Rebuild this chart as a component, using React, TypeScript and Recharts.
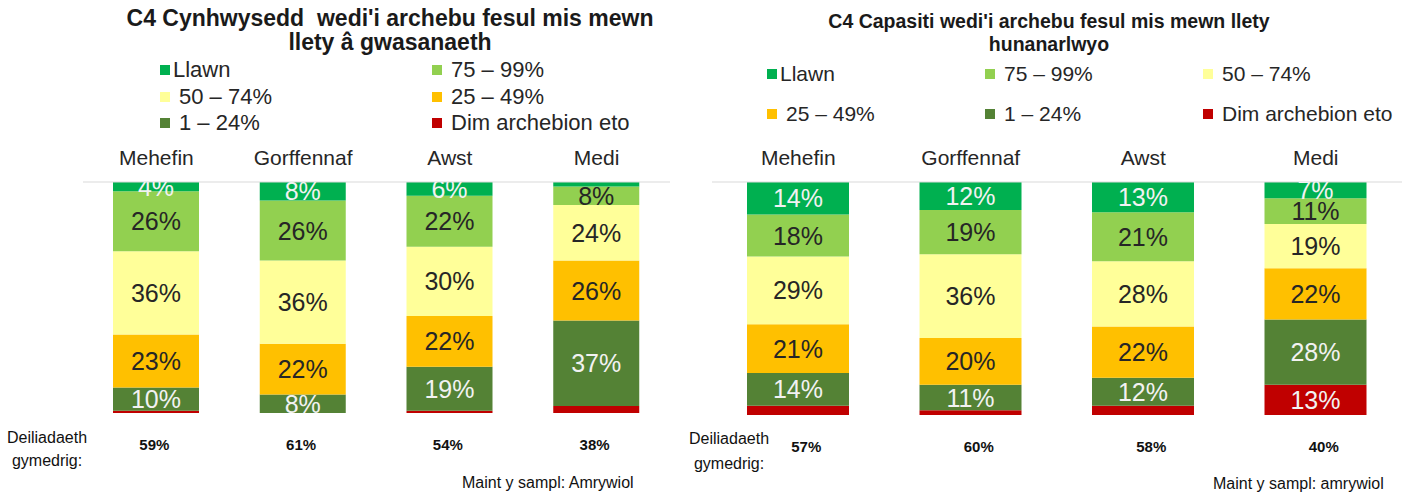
import React from "react";
import { BarChart, Bar, XAxis, YAxis, LabelList, Legend } from "recharts";

const months = ["Mehefin", "Gorffennaf", "Awst", "Medi"];
const seriesNames = ["Llawn", "75 – 99%", "50 – 74%", "25 – 49%", "1 – 24%", "Dim archebion eto"];
const seriesKeys = ["llawn", "p75", "p50", "p25", "p1", "dim"];
const seriesColors = ["#00B050", "#92D050", "#FFFF99", "#FFC000", "#548235", "#C00000"];
const labelColors = ["#F2F2F2", "#262626", "#262626", "#262626", "#F2F2F2", "#F2F2F2"];
const labelMin = [3, 3, 3, 3, 3, 5];

// llety â gwasanaeth (serviced)
const servLlawn = [4, 8, 6, 2];
const serv75 = [26, 26, 22, 8];
const serv50 = [36, 36, 30, 24];
const serv25 = [23, 22, 22, 26];
const serv1 = [10, 8, 19, 37];
const servDim = [1, 0, 1, 3];
const servOcc = ["59%", "61%", "54%", "38%"];

// llety hunanarlwyo (self catering)
const scLlawn = [14, 12, 13, 7];
const sc75 = [18, 19, 21, 11];
const sc50 = [29, 36, 28, 19];
const sc25 = [21, 20, 22, 22];
const sc1 = [14, 11, 12, 28];
const scDim = [4, 2, 4, 13];
const scOcc = ["57%", "60%", "58%", "40%"];

const font = "'Liberation Sans', Arial, sans-serif";

function buildRows(cols: number[][]) {
  return months.map((month, i) => {
    const row: any = { month };
    seriesKeys.forEach((k, s) => (row[k] = cols[s][i]));
    return row;
  });
}

const servData = buildRows([servLlawn, serv75, serv50, serv25, serv1, servDim]);
const scData = buildRows([scLlawn, sc75, sc50, sc25, sc1, scDim]);

const MonthTick = ({ x, y, payload }: any) => (
  <text x={x} y={y} dy={-9} textAnchor="middle" fontSize={21} fill="#262626" fontFamily={font}>
    {payload.value}
  </text>
);

const occTick = (occ: string[], dx: number) => ({ x, y, index }: any) => (
  <text x={x + dx} y={y} dy={29} textAnchor="middle" fontSize={15} fontWeight="bold" fill="#111" fontFamily={font}>
    {occ[index]}
  </text>
);

const makeLabel = (s: number, clipId: string) => (props: any) => {
  const vb = props.viewBox || props;
  const v = props.value;
  if (!v || v < labelMin[s]) return null;
  return (
    <text
      x={vb.x + vb.width / 2}
      y={vb.y + vb.height / 2}
      dy={9}
      textAnchor="middle"
      fontSize={25}
      fill={labelColors[s]}
      fontFamily={font}
      clipPath={`url(#${clipId})`}
    >
      {v}%
    </text>
  );
};

function LegendGrid({ cols, colWidth, rowHeight, fontSize }: { cols: number; colWidth: number; rowHeight: number; fontSize: number }) {
  return (
    <div style={{ display: "grid", gridTemplateColumns: `repeat(${cols}, ${colWidth}px)`, gridAutoRows: rowHeight, fontFamily: font, fontSize, color: "#262626" }}>
      {seriesNames.map((n, i) => (
        <div key={n} style={{ display: "flex", alignItems: "center", whiteSpace: "nowrap" }}>
          <span style={{ width: 10, height: 10, background: seriesColors[i], marginRight: i === 0 ? 3 : 9, display: "inline-block" }} />
          <span>{n}</span>
        </div>
      ))}
    </div>
  );
}

type ChartProps = {
  id: string;
  data: any[];
  occ: string[];
  occDx: number;
  width: number;
  margin: { top: number; right: number; bottom: number; left: number };
  barSize: number;
  legend: { left: number; top: number; cols: number; colWidth: number; rowHeight: number; fontSize: number };
};

function StackChart({ id, data, occ, occDx, width, margin, barSize, legend }: ChartProps) {
  const height = 494;
  const plotTop = margin.top + 30;
  const plotBottom = height - margin.bottom - 40;
  return (
    <BarChart width={width} height={height} data={data} margin={margin}>
      <defs>
        <clipPath id={id}>
          <rect x={0} y={plotTop} width={width} height={plotBottom - plotTop} />
        </clipPath>
      </defs>
      <XAxis xAxisId="m" dataKey="month" orientation="top" height={30} tickLine={false}
        axisLine={{ stroke: "#D9D9D9" }} tick={<MonthTick />} interval={0} />
      <XAxis xAxisId="o" dataKey="month" orientation="bottom" height={40} tickLine={false}
        axisLine={false} tick={occTick(occ, occDx)} interval={0} />
      <YAxis hide domain={[0, 100]} />
      <Legend
        layout="horizontal"
        verticalAlign="middle"
        wrapperStyle={{ left: legend.left, top: legend.top, width: "auto" }}
        content={() => <LegendGrid cols={legend.cols} colWidth={legend.colWidth} rowHeight={legend.rowHeight} fontSize={legend.fontSize} />}
      />
      {[5, 4, 3, 2, 1, 0].map((s) => (
        <Bar key={seriesKeys[s]} xAxisId="m" dataKey={seriesKeys[s]} name={seriesNames[s]} stackId="a"
          fill={seriesColors[s]} barSize={barSize} isAnimationActive={false}>
          <LabelList dataKey={seriesKeys[s]} content={makeLabel(s, id)} />
        </Bar>
      ))}
    </BarChart>
  );
}

const txt: React.CSSProperties = { position: "absolute", fontFamily: font, color: "#111", whiteSpace: "nowrap" };

export default function App() {
  return (
    <div style={{ position: "absolute", left: 0, top: 0, width: 1408, height: 494, background: "#fff", overflow: "hidden" }}>
      <div style={{ ...txt, left: 90, width: 600, top: 6, textAlign: "center", fontWeight: "bold", fontSize: 23, lineHeight: "24px", color: "#1a1a1a" }}>
        C4 Cynhwysedd&nbsp; wedi'i archebu fesul mis mewn<br />llety â gwasanaeth
      </div>
      <div style={{ ...txt, left: 749, width: 600, top: 10, textAlign: "center", fontWeight: "bold", fontSize: 19.5, lineHeight: "23px", color: "#1a1a1a" }}>
        C4 Capasiti wedi'i archebu fesul mis mewn llety<br />hunanarlwyo
      </div>

      <div style={{ position: "absolute", left: 0, top: 0 }}>
        <StackChart id="clipL" data={servData} occ={servOcc} occDx={-2} width={700}
          margin={{ top: 152, right: 30, bottom: 41, left: 83 }} barSize={86}
          legend={{ left: 160, top: 57, cols: 2, colWidth: 272, rowHeight: 26.5, fontSize: 22 }} />
      </div>
      <div style={{ position: "absolute", left: 700, top: 0 }}>
        <StackChart id="clipR" data={scData} occ={scOcc} occDx={8} width={708}
          margin={{ top: 152, right: 6, bottom: 39, left: 12 }} barSize={102}
          legend={{ left: 67, top: 54, cols: 3, colWidth: 218, rowHeight: 40, fontSize: 21 }} />
      </div>

      <div style={{ ...txt, left: 7, top: 426, fontSize: 16, lineHeight: "23px", textAlign: "center" }}>
        Deiliadaeth<br />gymedrig:
      </div>
      <div style={{ ...txt, left: 689, top: 426, fontSize: 16, lineHeight: "25px", textAlign: "center" }}>
        Deiliadaeth<br />gymedrig:
      </div>
      <div style={{ ...txt, left: 462, top: 474, fontSize: 16 }}>Maint y sampl: Amrywiol</div>
      <div style={{ ...txt, left: 1213, top: 475, fontSize: 16 }}>Maint y sampl: amrywiol</div>
    </div>
  );
}
